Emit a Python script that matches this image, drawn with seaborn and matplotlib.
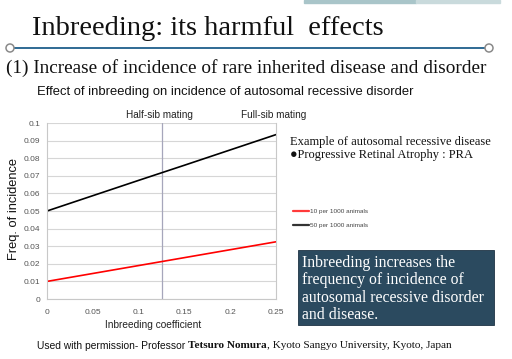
import matplotlib
matplotlib.use("Agg")
import matplotlib.pyplot as plt
import seaborn as sns
import pandas as pd
from matplotlib.patches import Rectangle, Ellipse
from matplotlib.lines import Line2D

# ---- data ----
inbreeding = [0.0, 0.05, 0.10, 0.15, 0.20, 0.25]
freq_10 = [0.010, 0.0145, 0.019, 0.0235, 0.028, 0.0325]
freq_50 = [0.050, 0.0587, 0.0674, 0.0760, 0.0847, 0.0934]
series_names = ["10 per 1000 animals", "50 per 1000 animals"]
series_colors = ["#ff0000", "#000000"]
x_ticks = [0, 0.05, 0.1, 0.15, 0.2, 0.25]
x_tick_labels = ["0", "0.05", "0.1", "0.15", "0.2", "0.25"]
y_ticks = [0, 0.01, 0.02, 0.03, 0.04, 0.05, 0.06, 0.07, 0.08, 0.09, 0.1]
y_tick_labels = ["0", "0.01", "0.02", "0.03", "0.04", "0.05", "0.06", "0.07", "0.08", "0.09", "0.1"]
half_sib_F = 0.125
box_lines = ["Inbreeding increases the", "frequency of incidence of",
             "autosomal recessive disorder", "and disease."]

df = pd.DataFrame({
    "F": inbreeding * 2,
    "freq": freq_10 + freq_50,
    "series": [series_names[0]] * len(inbreeding) + [series_names[1]] * len(inbreeding),
})

sns.set_theme(style="white")
plt.rcParams["font.family"] = ["Liberation Sans", "DejaVu Sans"]

W, H = 512, 359
fig = plt.figure(figsize=(W / 100, H / 100), dpi=100)

def fx(px):
    return px / W

def fy(py):
    return 1 - py / H

# top decoration bar
fig.patches.append(Rectangle((fx(304), fy(3)), 112 / W, 3 / H, transform=fig.transFigure,
                             color="#a9c5c9", zorder=1))
fig.patches.append(Rectangle((fx(416), fy(3)), 84 / W, 3 / H, transform=fig.transFigure,
                             color="#c9dadc", zorder=1))

# Title
fig.text(fx(32), fy(28.5), "Inbreeding: its harmful  effects", fontsize=20.5,
         family=["Liberation Serif"], color="#111111", va="center", ha="left")
# separator line with circles
fig.lines.append(Line2D([fx(10), fx(489)], [fy(48), fy(48)], transform=fig.transFigure,
                        color="#1f5f8b", lw=1.3, zorder=2))
for cx in (10, 489):
    fig.patches.append(Ellipse((fx(cx), fy(48)), 8 / W, 8 / H, transform=fig.transFigure,
                               facecolor="white", edgecolor="#8a8a8a", lw=1.1, zorder=3))

fig.text(fx(6), fy(68), "(1) Increase of incidence of rare inherited disease and disorder",
         fontsize=13.9, family=["Liberation Serif"], color="#111111", va="center", ha="left")

# chart title
fig.text(fx(37), fy(92), "Effect of inbreeding on incidence of autosomal recessive disorder",
         fontsize=9.4, color="#111111", va="center", ha="left")

# axes
ax = fig.add_axes([fx(47), 1 - 299 / H, 229 / W, 176 / H])
sns.lineplot(data=df, x="F", y="freq", hue="series", palette=series_colors,
             linewidth=1.2, ax=ax, legend=False)
ax.set_xlim(0, 0.25)
ax.set_ylim(0, 0.1)
ax.set_xticks(x_ticks)
ax.set_xticklabels(x_tick_labels)
ax.set_yticks(y_ticks)
ax.set_yticklabels(y_tick_labels)
ax.tick_params(axis="both", labelsize=6, colors="#555555", length=2, width=0.6,
               labelcolor="#555555", pad=3)
ax.tick_params(axis="x", length=0, pad=7)
ax.grid(axis="y", color="#d6d6d6", lw=0.8)
ax.set_axisbelow(True)
ax.spines["top"].set_visible(False)
for side in ("left", "right", "bottom"):
    ax.spines[side].set_color("#c8c8c8")
    ax.spines[side].set_linewidth(0.8)
ax.axvline(half_sib_F, color="#a6a6bb", lw=0.9, zorder=1)
ax.set_xlabel("Inbreeding coefficient", fontsize=7.3, color="#222222")
ax.xaxis.set_label_coords((153.5 - 47) / 229, -(320 - 299) / 176)
ax.set_ylabel("Freq. of incidence", fontsize=9.3, color="#111111")
ax.yaxis.set_label_coords(-(47 - 20) / 229, (299 - 209) / 176)

fig.text(fx(159.5), fy(115), "Half-sib mating", fontsize=7.2, color="#222222",
         ha="center", va="center")
fig.text(fx(273.5), fy(115), "Full-sib mating", fontsize=7.2, color="#222222",
         ha="center", va="center")

# legend
handles = [Line2D([], [], color=c, lw=1.6) for c in ["#ff3a3a", "#333333"]]
fig.legend(handles, series_names, loc="upper left",
           bbox_to_anchor=(fx(290), fy(206)), frameon=False, fontsize=4.6,
           handlelength=2.6, handletextpad=0.1, labelspacing=1.3,
           labelcolor="#444444", borderaxespad=0)

# right side text
fig.text(fx(290), fy(142), "Example of autosomal recessive disease", fontsize=9.0,
         family=["Liberation Serif"], color="#111111", va="center")
fig.text(fx(290), fy(155), "\u25cfProgressive Retinal Atrophy : PRA", fontsize=9.0,
         family=["Liberation Serif", "DejaVu Sans"], color="#111111", va="center")

# dark text box
fig.patches.append(Rectangle((fx(298), fy(325)), 196 / W, 75 / H, transform=fig.transFigure,
                             facecolor="#2b4a5f", edgecolor="#1e3344", lw=0.6, zorder=2))
for i, line in enumerate(box_lines):
    fig.text(fx(302), fy(263 + 17.3 * i), line, fontsize=11.3,
             family=["Liberation Serif"], color="white", va="center", ha="left", zorder=3)

# footer with mixed fonts
fig.canvas.draw()
renderer = fig.canvas.get_renderer()
t1 = fig.text(fx(37), fy(346), "Used with permission- Professor ", fontsize=7.4,
              color="#111111", va="center", ha="left")
bb = t1.get_window_extent(renderer)
t2 = fig.text(bb.x1 / W, fy(346), "Tetsuro Nomura", fontsize=8.1, weight="bold",
              family=["Liberation Serif"], color="#111111", va="center", ha="left")
bb2 = t2.get_window_extent(renderer)
fig.text(bb2.x1 / W, fy(346), ", Kyoto Sangyo University, Kyoto, Japan", fontsize=8.1,
         family=["Liberation Serif"], color="#111111", va="center", ha="left")

fig.savefig("out.png", dpi=100)
